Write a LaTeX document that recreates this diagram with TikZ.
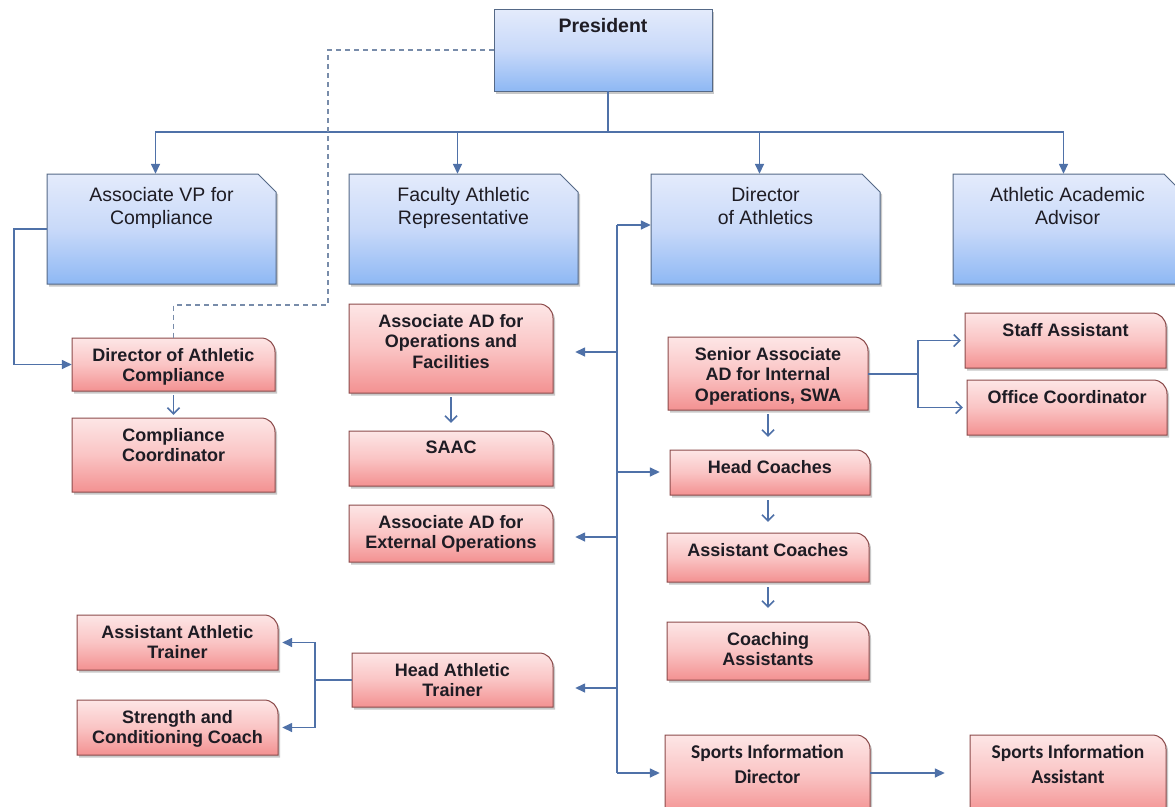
\documentclass[tikz,border=0pt]{standalone}
\usepackage{fontspec}
\setmainfont{Liberation Sans}
\newfontfamily\calib{Carlito}
\usetikzlibrary{arrows.meta,fit,shadows,calc}

\definecolor{lnc}{RGB}{79,113,168}
\definecolor{dashc}{RGB}{120,140,170}
\definecolor{bluebd}{RGB}{85,105,135}
\definecolor{blueA}{RGB}{228,235,251}
\definecolor{blueB}{RGB}{200,217,249}
\definecolor{blueC}{RGB}{142,184,244}
\definecolor{redbd}{RGB}{140,75,75}
\definecolor{redA}{RGB}{253,230,230}
\definecolor{redB}{RGB}{250,196,196}
\definecolor{redC}{RGB}{243,145,145}
\definecolor{txtc}{RGB}{30,28,36}

\tikzset{
  line/.style={draw=lnc, line width=1.5pt},
  arrf/.style={line, -{Triangle[length=10pt,width=9pt]}},
  arro/.style={line, -{Straight Barb[length=6pt,width=12pt]}},
  dashline/.style={draw=dashc, line width=1.7pt, dash pattern=on 5pt off 4pt},
  shad/.style={drop shadow={shadow xshift=2pt, shadow yshift=-2.5pt, opacity=0.3, fill=black!70}},
  bluefill/.style={draw=bluebd, line width=1pt, top color=blueA, bottom color=blueC, middle color=blueB, shad},
  redfill/.style={draw=redbd, line width=1pt, top color=redA, bottom color=redC, middle color=redB, shad},
  bluetext/.style={font=\fontsize{19.5}{23}\selectfont, align=center, inner sep=0pt, text=txtc},
  prestext/.style={font=\fontsize{19.5}{23}\selectfont\bfseries, align=center, inner sep=0pt, text=txtc},
  redtext/.style={font=\fontsize{18}{20.8}\selectfont\bfseries, align=center, inner sep=0pt, text=txtc},
  sidtext/.style={font=\calib\fontsize{19.5}{24.5}\selectfont\bfseries, align=center, inner sep=0pt, text=txtc},
}

% blue box with snipped top-right corner
\newcommand\bbox[6]{%
  \path[bluefill] (#2,#5) -- (#2,#3) -- ({#4-18},#3) -- (#4,{#3+18}) -- (#4,#5) -- cycle;
  \node[fit={(#2,#3)(#4,#5)}, inner sep=0pt] (#1) {};
  \node[bluetext, anchor=north] (#1-t) at ([yshift=-13pt]#1.north) {#6};
}
% red box with rounded top-right corner
\newcommand\rbox[7]{%
  \path[redfill] (#2,#5) -- (#2,#3) -- ({#4-14},#3) .. controls ({#4-6},#3) and (#4,{#3+6}) .. (#4,{#3+14}) -- (#4,#5) -- cycle;
  \node[fit={(#2,#3)(#4,#5)}, inner sep=0pt] (#1) {};
  \node[#6, anchor=north] (#1-t) at ([yshift=-10pt]#1.north) {#7};
}

\begin{document}
\begin{tikzpicture}[x=1pt,y=-1pt]
\useasboundingbox (0,0) rectangle (1175,806);
\fill[white] (0,0) rectangle (1175,806);

% President
\path[bluefill] (494,91) rectangle (712,9);
\node[fit={(494,9)(712,91)}, inner sep=0pt] (pres) {};
\node[prestext, anchor=north] (pres-t) at ([yshift=-9pt]pres.north) {President};

% blue level
\bbox{avp}{47}{174}{276}{284}{Associate VP for\\Compliance}
\bbox{far}{349}{174}{578}{284}{Faculty Athletic\\Representative}
\bbox{doa}{651}{174}{880}{284}{Director\\of Athletics}
\bbox{aaa}{953}{174}{1182}{284}{Athletic Academic\\Advisor}

% red boxes
\rbox{dac}{72}{338}{275}{391}{redtext}{Director of Athletic\\Compliance}
\rbox{cc}{72}{418}{275}{492}{redtext}{Compliance\\Coordinator}
\rbox{ops}{349}{304}{553}{393}{redtext}{Associate AD for\\Operations and\\Facilities}
\rbox{saac}{349}{431}{553}{486}{redtext}{SAAC}
\rbox{ext}{349}{505}{553}{562}{redtext}{Associate AD for\\External Operations}
\rbox{aat}{77}{615}{278}{670}{redtext}{Assistant Athletic\\Trainer}
\rbox{scc}{77}{700}{278}{755}{redtext}{Strength and\\Conditioning Coach}
\rbox{hat}{352}{653}{553}{707}{redtext}{Head Athletic\\Trainer}
\rbox{sa}{668}{337}{868}{410}{redtext}{Senior Associate\\AD for Internal\\Operations, SWA}
\rbox{hc}{670}{450}{870}{495}{redtext}{Head Coaches}
\rbox{ac}{667}{533}{869}{582}{redtext}{Assistant Coaches}
\rbox{ca}{667}{622}{869}{680}{redtext}{Coaching\\Assistants}
\rbox{sid}{665}{735}{870}{815}{sidtext}{Sports Information\\Director}
\rbox{sia}{970}{735}{1166}{815}{sidtext}{Sports Information\\Assistant}
\rbox{staff}{965}{313}{1166}{368}{redtext}{Staff Assistant}
\rbox{office}{967}{380}{1167}{435}{redtext}{Office Coordinator}

% President to first level
\coordinate (hub) at (608,132);
\draw[line] (pres.south -| hub) -- (hub);
\draw[arrf] (hub) -| ([xshift=-6pt]avp.north);
\draw[arrf] (hub) -| ([xshift=-6pt]far.north);
\draw[arrf] (hub) -| ([xshift=-6pt]doa.north);
\draw[arrf] (hub) -| ([xshift=-4pt]aaa.north);

% dashed line President -> Director of Athletic Compliance
\coordinate (dj) at (328,305);
\draw[dashline] (pres.west) -| (dj) -| (dac.north);

% Associate VP -> Director of Athletic Compliance
\draw[arrf] (avp.west) -- ++(-33,0) |- (dac.west);
\draw[arro, shorten <=4pt, shorten >=3pt] (dac.south) -- (cc.north);

% Ops -> SAAC
\draw[arro, shorten <=4pt, shorten >=8pt] (ops.south) -- (saac.north);

% Director of Athletics trunk
\coordinate (ttop) at (617,225);
\coordinate (tbot) at (617,773);
\coordinate (b1) at (617,352);
\coordinate (b2) at (617,472);
\coordinate (b3) at (617,537);
\coordinate (b4) at (617,688);
\draw[line] (ttop) -- (tbot);
\draw[arrf] (ttop) -- (ttop -| doa.west);
\draw[arrf, shorten >=22pt] (b1) -- (b1 -| ops.east);
\draw[arrf, shorten >=10pt] (b2) -- (b2 -| hc.west);
\draw[arrf, shorten >=22pt] (b3) -- (b3 -| ext.east);
\draw[arrf, shorten >=22pt] (b4) -- (b4 -| hat.east);
\draw[arrf, shorten >=5pt] (tbot) -- (tbot -| sid.west);

% SID -> SIA
\draw[arrf, shorten >=25pt] (sid.east |- tbot) -- (tbot -| sia.west);

% Senior Associate -> Staff / Office
\draw[line, line width=2pt] (sa.east) -- ++(50,0) coordinate (sj);
\draw[arro, shorten >=4pt] (sj) |- (staff.west);
\draw[arro, shorten >=4pt] (sj) |- (office.west);

% coaches chain
\draw[arro, shorten <=4pt, shorten >=13pt] (sa.south) -- (sa.south |- hc.north);
\draw[arro, shorten <=5pt, shorten >=11pt] (sa.south |- hc.south) -- (sa.south |- ac.north);
\draw[arro, shorten <=5pt, shorten >=14pt] (sa.south |- ac.south) -- (sa.south |- ca.north);

% Head Athletic Trainer branches
\draw[line] (hat.west) -- ++(-37,0) coordinate (hj);
\draw[arrf, shorten >=4pt] (hj) |- (aat.east);
\draw[arrf, shorten >=4pt] (hj) |- (scc.east);
\end{tikzpicture}
\end{document}
